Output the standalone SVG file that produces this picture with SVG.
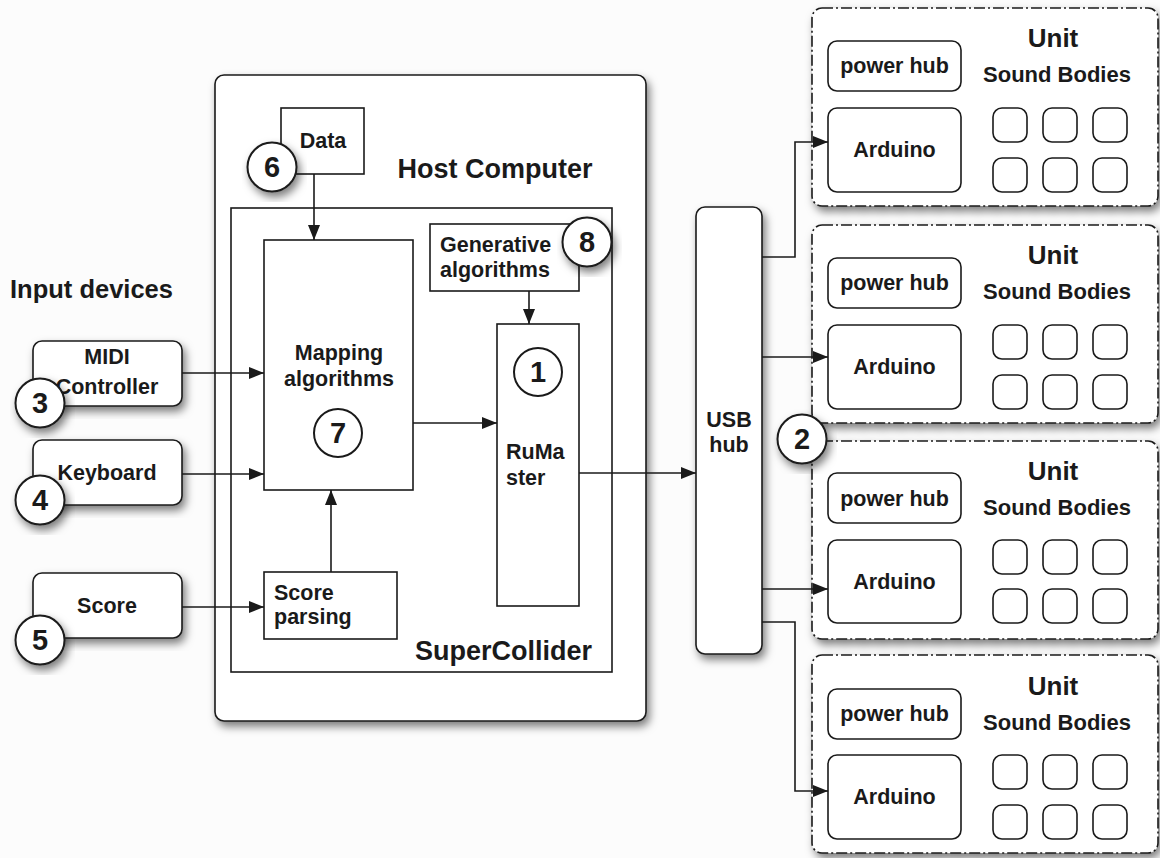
<svg xmlns="http://www.w3.org/2000/svg" width="1160" height="858" viewBox="0 0 1160 858">
<defs>
<style>
.t{font-family:"Liberation Sans",Arial,sans-serif;font-weight:bold;fill:#1a1a1a}
.b{fill:#fff;stroke:#1a1a1a;stroke-width:1.6}
.u{fill:#fff;stroke:#1a1a1a;stroke-width:1.6;stroke-dasharray:11 3 2 3}
.c{fill:none;stroke:#1a1a1a;stroke-width:1.6}
.n{fill:#fff;stroke:#1a1a1a;stroke-width:2}
.m{font-size:21.5px;text-anchor:middle}
.num{font-size:29px;text-anchor:middle}
</style>
<filter id="sh" x="-10%" y="-10%" width="130%" height="130%">
<feDropShadow dx="3" dy="5" stdDeviation="4" flood-color="#000" flood-opacity="0.5"/>
</filter>
<marker id="ar" markerUnits="userSpaceOnUse" markerWidth="15" markerHeight="12" refX="15" refY="6" orient="auto">
<path d="M0,0 L15,6 L0,12 z" fill="#1a1a1a"/>
</marker>
</defs>
<rect width="1160" height="858" fill="#fcfcfc"/>

<g id="host">
<rect class="b" x="215" y="75" width="431" height="646" rx="9" filter="url(#sh)"/>
<text class="t" x="495" y="178" font-size="27" text-anchor="middle">Host Computer</text>
</g>
<g id="supercollider">
<rect class="b" x="231" y="208" width="381" height="464"/>
<text class="t" x="592" y="660" font-size="27" text-anchor="end">SuperCollider</text>
</g>
<g id="data">
<rect class="b" x="281" y="108" width="83" height="66"/>
<text class="t m" x="323" y="148">Data</text>
</g>
<g id="mapping">
<rect class="b" x="264" y="240" width="149" height="250"/>
<text class="t m" x="339" y="360">Mapping</text>
<text class="t m" x="339" y="386">algorithms</text>
</g>
<g id="generative">
<rect class="b" x="430" y="224" width="149" height="67"/>
<text class="t" x="440" y="252" font-size="21.5">Generative</text>
<text class="t" x="440" y="277" font-size="21.5">algorithms</text>
</g>
<g id="rumaster">
<rect class="b" x="497" y="324" width="82" height="282"/>
<text class="t" x="506" y="459" font-size="21.5">RuMa</text>
<text class="t" x="506" y="485" font-size="21.5">ster</text>
</g>
<g id="scoreparsing">
<rect class="b" x="264" y="572" width="133" height="67"/>
<text class="t" x="274" y="600" font-size="21.5">Score</text>
<text class="t" x="274" y="624" font-size="21.5">parsing</text>
</g>

<text class="t" x="10" y="298" font-size="25.5">Input devices</text>
<g id="midi">
<rect class="b" x="33" y="341" width="149" height="65" rx="9" filter="url(#sh)"/>
<text class="t m" x="107" y="364">MIDI</text>
<text class="t m" x="107" y="394">Controller</text>
</g>
<g id="keyboard">
<rect class="b" x="33" y="440" width="149" height="65" rx="9" filter="url(#sh)"/>
<text class="t m" x="107" y="480">Keyboard</text>
</g>
<g id="score">
<rect class="b" x="33" y="573" width="149" height="65" rx="9" filter="url(#sh)"/>
<text class="t m" x="107" y="613">Score</text>
</g>

<g id="usbhub">
<rect class="b" x="696" y="207" width="66" height="447" rx="9" filter="url(#sh)"/>
<text class="t m" x="729" y="427">USB</text>
<text class="t m" x="729" y="452">hub</text>
</g>

<g id="unit1">
<rect class="u" x="812" y="8" width="346" height="198" rx="10" filter="url(#sh)"/>
<rect class="b" x="828" y="41" width="133" height="50" rx="9"/>
<text class="t m" x="894.5" y="73">power hub</text>
<rect class="b" x="828" y="108" width="133" height="84" rx="9"/>
<text class="t m" x="894.5" y="157">Arduino</text>
<text class="t" x="1053" y="47" font-size="26" text-anchor="middle">Unit</text>
<text class="t" x="1057" y="82" font-size="22" text-anchor="middle">Sound Bodies</text>
<rect class="b" x="993" y="108" width="34" height="34" rx="9"/><rect class="b" x="1043" y="108" width="34" height="34" rx="9"/><rect class="b" x="1093" y="108" width="34" height="34" rx="9"/>
<rect class="b" x="993" y="158" width="34" height="34" rx="9"/><rect class="b" x="1043" y="158" width="34" height="34" rx="9"/><rect class="b" x="1093" y="158" width="34" height="34" rx="9"/>
</g>
<g id="unit2">
<rect class="u" x="812" y="225" width="346" height="198" rx="10" filter="url(#sh)"/>
<rect class="b" x="828" y="258" width="133" height="50" rx="9"/>
<text class="t m" x="894.5" y="290">power hub</text>
<rect class="b" x="828" y="325" width="133" height="84" rx="9"/>
<text class="t m" x="894.5" y="374">Arduino</text>
<text class="t" x="1053" y="264" font-size="26" text-anchor="middle">Unit</text>
<text class="t" x="1057" y="299" font-size="22" text-anchor="middle">Sound Bodies</text>
<rect class="b" x="993" y="325" width="34" height="34" rx="9"/><rect class="b" x="1043" y="325" width="34" height="34" rx="9"/><rect class="b" x="1093" y="325" width="34" height="34" rx="9"/>
<rect class="b" x="993" y="375" width="34" height="34" rx="9"/><rect class="b" x="1043" y="375" width="34" height="34" rx="9"/><rect class="b" x="1093" y="375" width="34" height="34" rx="9"/>
</g>
<g id="unit3">
<rect class="u" x="812" y="441" width="346" height="198" rx="10" filter="url(#sh)"/>
<rect class="b" x="828" y="473" width="133" height="50" rx="9"/>
<text class="t m" x="894.5" y="506">power hub</text>
<rect class="b" x="828" y="540" width="133" height="83" rx="9"/>
<text class="t m" x="894.5" y="589">Arduino</text>
<text class="t" x="1053" y="480" font-size="26" text-anchor="middle">Unit</text>
<text class="t" x="1057" y="515" font-size="22" text-anchor="middle">Sound Bodies</text>
<rect class="b" x="993" y="540" width="34" height="34" rx="9"/><rect class="b" x="1043" y="540" width="34" height="34" rx="9"/><rect class="b" x="1093" y="540" width="34" height="34" rx="9"/>
<rect class="b" x="993" y="589" width="34" height="34" rx="9"/><rect class="b" x="1043" y="589" width="34" height="34" rx="9"/><rect class="b" x="1093" y="589" width="34" height="34" rx="9"/>
</g>
<g id="unit4">
<rect class="u" x="812" y="655" width="346" height="198" rx="10" filter="url(#sh)"/>
<rect class="b" x="828" y="689" width="133" height="50" rx="9"/>
<text class="t m" x="894.5" y="721">power hub</text>
<rect class="b" x="828" y="755" width="133" height="84" rx="9"/>
<text class="t m" x="894.5" y="804">Arduino</text>
<text class="t" x="1053" y="695" font-size="26" text-anchor="middle">Unit</text>
<text class="t" x="1057" y="730" font-size="22" text-anchor="middle">Sound Bodies</text>
<rect class="b" x="993" y="755" width="34" height="34" rx="9"/><rect class="b" x="1043" y="755" width="34" height="34" rx="9"/><rect class="b" x="1093" y="755" width="34" height="34" rx="9"/>
<rect class="b" x="993" y="805" width="34" height="34" rx="9"/><rect class="b" x="1043" y="805" width="34" height="34" rx="9"/><rect class="b" x="1093" y="805" width="34" height="34" rx="9"/>
</g>

<g id="connectors">
<path class="c" d="M314,174 V240" marker-end="url(#ar)"/>
<path class="c" d="M529,291 V324" marker-end="url(#ar)"/>
<path class="c" d="M413,423 H497" marker-end="url(#ar)"/>
<path class="c" d="M331,572 V490" marker-end="url(#ar)"/>
<path class="c" d="M182,373 H264" marker-end="url(#ar)"/>
<path class="c" d="M182,474 H264" marker-end="url(#ar)"/>
<path class="c" d="M182,607 H264" marker-end="url(#ar)"/>
<path class="c" d="M579,473 H696" marker-end="url(#ar)"/>
<path class="c" d="M762,257 H795 V142 H828" marker-end="url(#ar)"/>
<path class="c" d="M762,357 H828" marker-end="url(#ar)"/>
<path class="c" d="M762,589 H828" marker-end="url(#ar)"/>
<path class="c" d="M762,622 H795 V791 H828" marker-end="url(#ar)"/>
</g>

<g id="badges">
<g id="badge6"><circle class="n" cx="272" cy="167" r="24.5" filter="url(#sh)"/><text class="t num" x="272" y="177">6</text></g>
<g id="badge8"><circle class="n" cx="587" cy="242" r="24.5" filter="url(#sh)"/><text class="t num" x="587" y="252">8</text></g>
<g id="badge1"><circle class="n" cx="538" cy="372" r="24"/><text class="t num" x="538" y="382">1</text></g>
<g id="badge7"><circle class="n" cx="338" cy="433" r="24"/><text class="t num" x="338" y="443">7</text></g>
<g id="badge3"><circle class="n" cx="40" cy="403" r="24.5" filter="url(#sh)"/><text class="t num" x="40" y="413">3</text></g>
<g id="badge4"><circle class="n" cx="40" cy="500" r="24.5" filter="url(#sh)"/><text class="t num" x="40" y="510">4</text></g>
<g id="badge5"><circle class="n" cx="40" cy="640" r="24.5" filter="url(#sh)"/><text class="t num" x="40" y="650">5</text></g>
<g id="badge2"><circle class="n" cx="802" cy="439" r="24.5" filter="url(#sh)"/><text class="t num" x="802" y="449">2</text></g>
</g>
</svg>
